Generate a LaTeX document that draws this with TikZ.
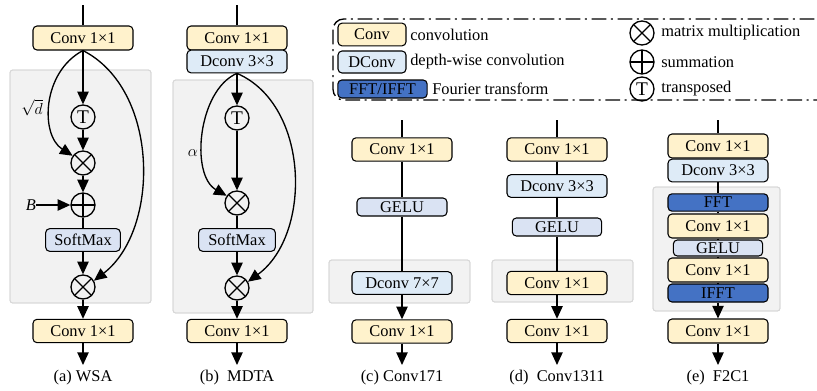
\documentclass[tikz,border=0pt]{standalone}
\usepackage{fontspec}
\setmainfont{Liberation Serif}
\usetikzlibrary{arrows.meta}

\definecolor{convc}{HTML}{FFF2CC}
\definecolor{dconvc}{HTML}{DEEBF7}
\definecolor{actc}{HTML}{DAE3F3}
\definecolor{fftc}{HTML}{4472C4}
\definecolor{bgc}{HTML}{F2F2F2}
\definecolor{bgline}{HTML}{D6D6D6}

\tikzset{
  txt/.style={font=\fontsize{12.3}{14.4}\selectfont, inner sep=0pt},
  box/.style={txt, draw, line width=0.8pt, rounded corners=3pt},
  convbox/.style={box, fill=convc, minimum width=75pt, minimum height=17.5pt},
  dconvbox/.style={box, fill=dconvc, minimum width=75pt, minimum height=17pt},
  actbox/.style={box, fill=actc},
  fftbox/.style={box, fill=fftc, minimum width=75pt, minimum height=13pt},
  bgpanel/.style={fill=bgc, draw=bgline, line width=0.6pt, rounded corners=2pt},
  ln/.style={line width=1pt},
  arr/.style={ln, -{Triangle[length=9.5pt,width=8.5pt]}},
  opcirc/.style={txt, circle, draw, line width=1pt, minimum size=18pt},
  mulop/.style={opcirc, path picture={
      \draw[line width=1pt] (path picture bounding box.north west) -- (path picture bounding box.south east);
      \draw[line width=1pt] (path picture bounding box.north east) -- (path picture bounding box.south west);}},
  sumop/.style={opcirc, path picture={
      \draw[line width=1pt] (path picture bounding box.north) -- (path picture bounding box.south);
      \draw[line width=1pt] (path picture bounding box.west) -- (path picture bounding box.east);}},
  trop/.style={opcirc, font=\fontsize{14.5}{16}\selectfont},
  legendframe/.style={line width=1pt, rounded corners=8pt,
      dash pattern=on 11pt off 3.5pt on 1.5pt off 3.5pt},
}

\begin{document}
\begin{tikzpicture}[x=0.75pt,y=-0.75pt]
\useasboundingbox (0,0) rectangle (817,390);

% gray panels
\fill[bgpanel] (10,70) rectangle (151,303);
\fill[bgpanel] (173,80) rectangle (313,313);
\fill[bgpanel] (329,260) rectangle (470,303);
\fill[bgpanel] (492,260) rectangle (633,302);
\fill[bgpanel] (653,187) rectangle (780,311);
\draw[bgpanel,fill=none] (10,70) rectangle (151,303);
\draw[bgpanel,fill=none] (173,80) rectangle (313,313);
\draw[bgpanel,fill=none] (329,260) rectangle (470,303);
\draw[bgpanel,fill=none] (492,260) rectangle (633,302);
\draw[bgpanel,fill=none] (653,187) rectangle (780,311);

% ---------- (a) WSA ----------
\coordinate (inA) at (83,5);
\node[convbox, minimum height=18pt] (convA1) at (83,38) {Conv 1×1};
\node[trop] (tA) at (83,117) {T};
\node[mulop] (mA1) at (83,163) {};
\node[sumop] (pA) at (83,205) {};
\node[actbox, minimum width=56pt, minimum height=17pt] (smA) at (83,240) {SoftMax};
\node[mulop] (mA2) at (83,287) {};
\node[convbox] (convA2) at (83,331) {Conv 1×1};
\coordinate (outA) at (83,365);
\node[txt] (bA) at (31,205) {\textit{B}};
\node[txt] (sdA) at (32,108) {$\sqrt{d}$};
\node[txt] (capA) at (83,378) {(a) WSA};

\draw[ln] (inA) -- (convA1);
\draw[arr] (convA1) -- (tA);
\draw[arr] (tA) -- (mA1);
\draw[arr] (mA1) -- (pA);
\draw[ln] (pA) -- (smA);
\draw[arr] (smA) -- (mA2);
\draw[arr] (mA2) -- (convA2);
\draw[arr] (convA2) -- (outA);
\draw[arr] (bA) -- (pA);
\draw[arr] (convA1.south) .. controls (42,72) and (40,135) .. (mA1.145);
\draw[arr] (convA1.south) .. controls (160,90) and (160,230) .. (mA2.30);

% ---------- (b) MDTA ----------
\coordinate (inB) at (237,5);
\node[convbox, minimum height=18pt] (convB1) at (237,38) {Conv 1×1};
\node[dconvbox] (dcB) at (237,61.5) {Dconv 3×3};
\node[trop] (tB) at (237,118) {T};
\node[mulop] (mB1) at (237,203) {};
\node[actbox, minimum width=57.5pt, minimum height=17pt] (smB) at (237,240) {SoftMax};
\node[mulop] (mB2) at (237,288) {};
\node[convbox] (convB2) at (237,331) {Conv 1×1};
\coordinate (outB) at (237,365);
\node[txt] (alB) at (193,153) {$\alpha$};
\node[txt] (capB) at (237,378) {(b)\ \ MDTA};

\draw[ln] (inB) -- (convB1);
\draw[arr] (dcB) -- (tB);
\draw[arr] (tB) -- (mB1);
\draw[ln] (mB1) -- (smB);
\draw[arr] (smB) -- (mB2);
\draw[arr] (mB2) -- (convB2);
\draw[arr] (convB2) -- (outB);
\draw[arr] (dcB.south) .. controls (198,90) and (190,175) .. (mB1.145);
\draw[arr] (dcB.south) .. controls (310,105) and (312,235) .. (mB2.30);

% ---------- (c) Conv171 ----------
\coordinate (inC) at (402,120);
\node[convbox] (convC1) at (402,149.5) {Conv 1×1};
\node[actbox, minimum width=67.5pt, minimum height=13.5pt] (geC) at (402,207) {GELU};
\node[dconvbox] (dcC) at (402,283) {Dconv 7×7};
\node[convbox] (convC2) at (402,331.5) {Conv 1×1};
\coordinate (outC) at (402,365);
\node[txt] (capC) at (402,378) {(c) Conv171};

\draw[ln] (inC) -- (convC1);
\draw[ln] (convC1) -- (geC);
\draw[ln] (geC) -- (dcC);
\draw[arr] (dcC) -- (convC2);
\draw[arr] (convC2) -- (outC);

% ---------- (d) Conv1311 ----------
\coordinate (inD) at (557,120);
\node[convbox] (convD1) at (557,149.5) {Conv 1×1};
\node[dconvbox] (dcD) at (557,186) {Dconv 3×3};
\node[actbox, minimum width=67pt, minimum height=13.5pt] (geD) at (557,227) {GELU};
\node[convbox] (convD2) at (557,283) {Conv 1×1};
\node[convbox] (convD3) at (557,331) {Conv 1×1};
\coordinate (outD) at (557,365);
\node[txt] (capD) at (557,378) {(d)\ \ Conv1311};

\draw[ln] (inD) -- (convD1);
\draw[ln] (convD1) -- (dcD);
\draw[ln] (dcD) -- (geD);
\draw[ln] (geD) -- (convD2);
\draw[arr] (convD2) -- (convD3);
\draw[arr] (convD3) -- (outD);

% ---------- (e) F2C1 ----------
\coordinate (inE) at (718,120);
\node[convbox, minimum height=18pt] (convE1) at (718,146) {Conv 1×1};
\node[dconvbox] (dcE) at (718,170.5) {Dconv 3×3};
\node[fftbox] (fftE) at (718,202.5) {FFT};
\node[convbox, minimum height=18pt] (convE2) at (718,226) {Conv 1×1};
\node[actbox, minimum width=67pt, minimum height=12pt] (geE) at (718,248) {GELU};
\node[convbox, minimum height=18pt] (convE3) at (718,270) {Conv 1×1};
\node[fftbox, minimum height=13.5pt] (ifftE) at (718,293) {IFFT};
\node[convbox, minimum height=18pt] (convE4) at (718,331) {Conv 1×1};
\coordinate (outE) at (718,365);
\node[txt] (capE) at (718,378) {(e)\ \ F2C1};

\draw[ln] (inE) -- (convE1);
\draw[ln] (dcE) -- (fftE);
\draw[ln] (fftE) -- (convE2);
\draw[ln] (convE2) -- (geE);
\draw[ln] (geE) -- (convE3);
\draw[ln] (convE3) -- (ifftE);
\draw[arr] (ifftE) -- (convE4);
\draw[arr] (convE4) -- (outE);

% ---------- legend ----------
\draw[legendframe] (333,19) rectangle (830,100);
\node[convbox, minimum width=51pt, minimum height=17pt] (lgConv) at (372,34.5) {Conv};
\node[txt, anchor=west] (lgConvT) at (410,34.5) {convolution};
\node[dconvbox, minimum width=51pt, minimum height=16.5pt] (lgDconv) at (372,62) {DConv};
\node[txt, anchor=west] (lgDconvT) at (410,62) {depth-wise convolution};
\node[fftbox, minimum width=67pt, minimum height=13.5pt] (lgFft) at (382.5,89) {FFT/IFFT};
\node[txt, anchor=west] (lgFftT) at (432,89) {Fourier transform};
\node[mulop] (lgMul) at (642,33) {};
\node[txt, anchor=west] (lgMulT) at (661,33) {matrix multiplication};
\node[sumop] (lgSum) at (642,62) {};
\node[txt, anchor=west] (lgSumT) at (661,62) {summation};
\node[trop] (lgTr) at (642,89) {T};
\node[txt, anchor=west] (lgTrT) at (661,89) {transposed};
\end{tikzpicture}
\end{document}
